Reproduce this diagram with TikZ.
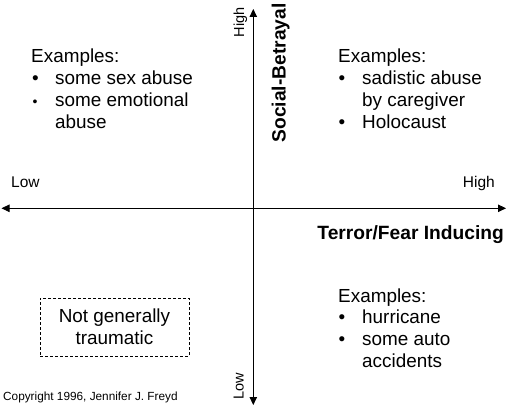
\documentclass[tikz,border=0pt]{standalone}
\usepackage{fontspec}
\setmainfont{Liberation Sans}
\usetikzlibrary{arrows.meta}
\tikzset{
  txt/.style={inner sep=0pt, anchor=base west, font=\fontsize{18.9}{21.7}\selectfont},
  bul/.style={inner sep=0pt, anchor=base west, font=\fontsize{18.9}{21.7}\selectfont},
  smallbul/.style={inner sep=0pt, anchor=base west, font=\fontsize{14}{16}\selectfont},
  axlbl/.style={inner sep=0pt, font=\fontsize{15.5}{18}\selectfont},
  rotlbl/.style={inner sep=0pt, rotate=90, anchor=base west, font=\fontsize{14.5}{16}\selectfont},
  axtitle/.style={inner sep=0pt, font=\bfseries\fontsize{19.2}{21.7}\selectfont},
  axisline/.style={line width=0.9pt, {Triangle[length=8pt,width=7.5pt]}-{Triangle[length=8pt,width=7.5pt]}},
  dashbox/.style={draw, dashed, dash pattern=on 3pt off 2pt, line width=0.7pt, minimum width=149pt, minimum height=58pt, inner sep=0pt, align=center, font=\fontsize{18.9}{21.7}\selectfont}
}
\begin{document}
\begin{tikzpicture}[x=1pt,y=-1pt]
\useasboundingbox (0,0) rectangle (517,409);
% axes
\coordinate (hl) at (1.5,208.3);
\coordinate (hr) at (506,208.3);
\coordinate (vt) at (253.3,9);
\coordinate (vb) at (253.3,405);
\draw[axisline] (hl) -- (hr);
\draw[axisline] (vb) -- (vt);
% axis labels
\node[axlbl, anchor=base west] (lowx) at (11,188) {Low};
\node[axlbl, anchor=base east] (highx) at (495,188) {High};
\node[rotlbl] (highy) at (244,37.5) {High};
\node[rotlbl] (lowy) at (243.5,400) {Low};
\node[axtitle, anchor=base east] (xtitle) at (504,239) {Terror/Fear Inducing};
\node[axtitle, rotate=90, anchor=base west] (ytitle) at (285.5,142.5) {Social-Betrayal};
% top-left
\node[txt] (tlh) at (31,63) {Examples:};
\node[bul] (tlb1) at (32,85) {•};
\node[txt] (tl1) at (55,85) {some sex abuse};
\node[smallbul] (tlb2) at (32.5,107) {•};
\node[txt] (tl2) at (55,107) {some emotional};
\node[txt] (tl3) at (55,128.5) {abuse};
% top-right
\node[txt] (trh) at (338,63) {Examples:};
\node[bul] (trb1) at (338.5,85) {•};
\node[txt] (tr1) at (362,85) {sadistic abuse};
\node[txt] (tr2) at (362,107) {by caregiver};
\node[bul] (trb2) at (338.5,128.5) {•};
\node[txt] (tr3) at (362,128.5) {Holocaust};
% bottom-right
\node[txt] (brh) at (338,302) {Examples:};
\node[bul] (brb1) at (338.5,323.5) {•};
\node[txt] (br1) at (362,323.5) {hurricane};
\node[bul] (brb2) at (338.5,345) {•};
\node[txt] (br2) at (362,345) {some auto};
\node[txt] (br3) at (362,367) {accidents};
% bottom-left
\node[dashbox] (nt) at (114.5,327) {Not generally\\traumatic};
% copyright
\node[inner sep=0pt, anchor=base west, font=\fontsize{11.8}{14}\selectfont] (copy) at (3,400) {Copyright 1996, Jennifer J. Freyd};
\end{tikzpicture}
\end{document}
